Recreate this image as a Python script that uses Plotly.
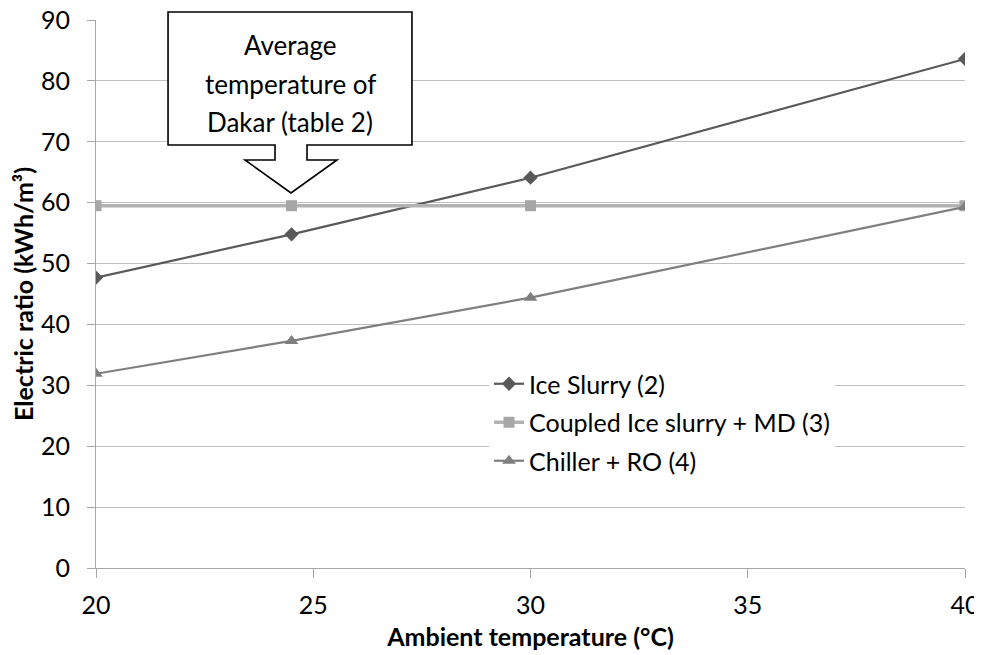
import plotly.graph_objects as go

temps = [20, 24.5, 30, 40]
ice_slurry = [47.7, 54.8, 64.1, 83.6]
coupled = [59.5, 59.5, 59.5, 59.5]
chiller_ro = [31.9, 37.3, 44.4, 59.3]

series_names = ["Ice Slurry (2)", "Coupled Ice slurry + MD (3)", "Chiller + RO (4)"]
x_ticks = [20, 25, 30, 35, 40]
y_ticks = [0, 10, 20, 30, 40, 50, 60, 70, 80, 90]
callout_lines = ["Average", "temperature of", "Dakar (table 2)"]

FONT = "Lato"

fig = go.Figure()
fig.add_trace(go.Scatter(x=temps, y=ice_slurry, name=series_names[0], mode="lines+markers",
                         line=dict(color="#595959", width=2.2),
                         marker=dict(symbol="diamond", size=11, color="#595959"),
                         legendgroup="a"))
fig.add_trace(go.Scatter(x=temps, y=coupled, name=series_names[1], mode="lines+markers",
                         line=dict(color="#B3B3B3", width=3.5),
                         marker=dict(symbol="square", size=11, color="#A6A6A6"),
                         legendgroup="b"))
fig.add_trace(go.Scatter(x=temps, y=chiller_ro, name=series_names[2], mode="lines+markers",
                         line=dict(color="#7F7F7F", width=2.2),
                         marker=dict(symbol="triangle-up", size=12, color="#7F7F7F"),
                         legendgroup="c"))

# page has an 8px body offset; figure sized to fill the remaining window
OFF = 8
PAGE_W, PAGE_H = 982, 655
PL, PR, PT, PB = 96, 965, 20, 568  # plot area in page pixels
W, H = PAGE_W - OFF, PAGE_H - OFF
L, T = PL - OFF, PT - OFF
R = W - (PR - OFF)
B = H - (PB - OFF)
PW, PH = PR - PL, PB - PT

def px(x):
    return (x - PL) / PW

def py(y):
    return (PB - y) / PH

# Callout shape (box with downward arrow)
pts = [(168, 12), (412, 12), (412, 145), (307, 145), (307, 160), (337, 160),
       (291, 193), (245, 160), (275, 160), (275, 145), (168, 145)]
path = "M " + " L ".join(f"{px(a):.4f},{py(b):.4f}" for a, b in pts) + " Z"

fig.add_shape(type="path", path=path, xref="paper", yref="paper",
              fillcolor="white", line=dict(color="black", width=1.6), layer="above")

for line_text, ypix in zip(callout_lines, [45, 84, 122]):
    fig.add_annotation(text=line_text, x=px(290), y=py(ypix), xref="paper", yref="paper",
                       showarrow=False, xanchor="center", yanchor="middle",
                       font=dict(family=FONT, size=26, color="black"))

fig.update_layout(
    width=W, height=H,
    margin=dict(l=L, r=R, t=T, b=B, autoexpand=False),
    paper_bgcolor="white", plot_bgcolor="white",
    font=dict(family=FONT, size=25, color="black"),
    showlegend=True,
    legend=dict(x=px(489), y=py(361), xanchor="left", yanchor="top",
                bgcolor="white", font=dict(family=FONT, size=25, color="black"),
                tracegroupgap=3, itemwidth=30),
    xaxis=dict(range=[20, 40], tickvals=x_ticks, showgrid=False, zeroline=False,
               showline=True, linecolor="#A6A6A6", linewidth=1,
               ticks="outside", ticklen=9, tickcolor="#A6A6A6",
               tickfont=dict(family=FONT, size=25), ticklabelstandoff=6,
               ticklabeloverflow="allow", automargin=False,
               title=dict(text="<b>Ambient temperature (°C)</b>", standoff=10,
                          font=dict(family=FONT, size=25))),
    yaxis=dict(range=[0, 90], tickvals=y_ticks, showgrid=True, gridcolor="#BFBFBF",
               zeroline=False, showline=True, linecolor="#A6A6A6", linewidth=1,
               ticks="outside", ticklen=8, tickcolor="#A6A6A6",
               tickfont=dict(family=FONT, size=25), ticklabelstandoff=12,
               ticklabeloverflow="allow", automargin=False,
               title=dict(text="<b>Electric ratio (kWh/m³)</b>", standoff=0,
                          font=dict(family=FONT, size=25))),
)

fig.write_html("out.html")
